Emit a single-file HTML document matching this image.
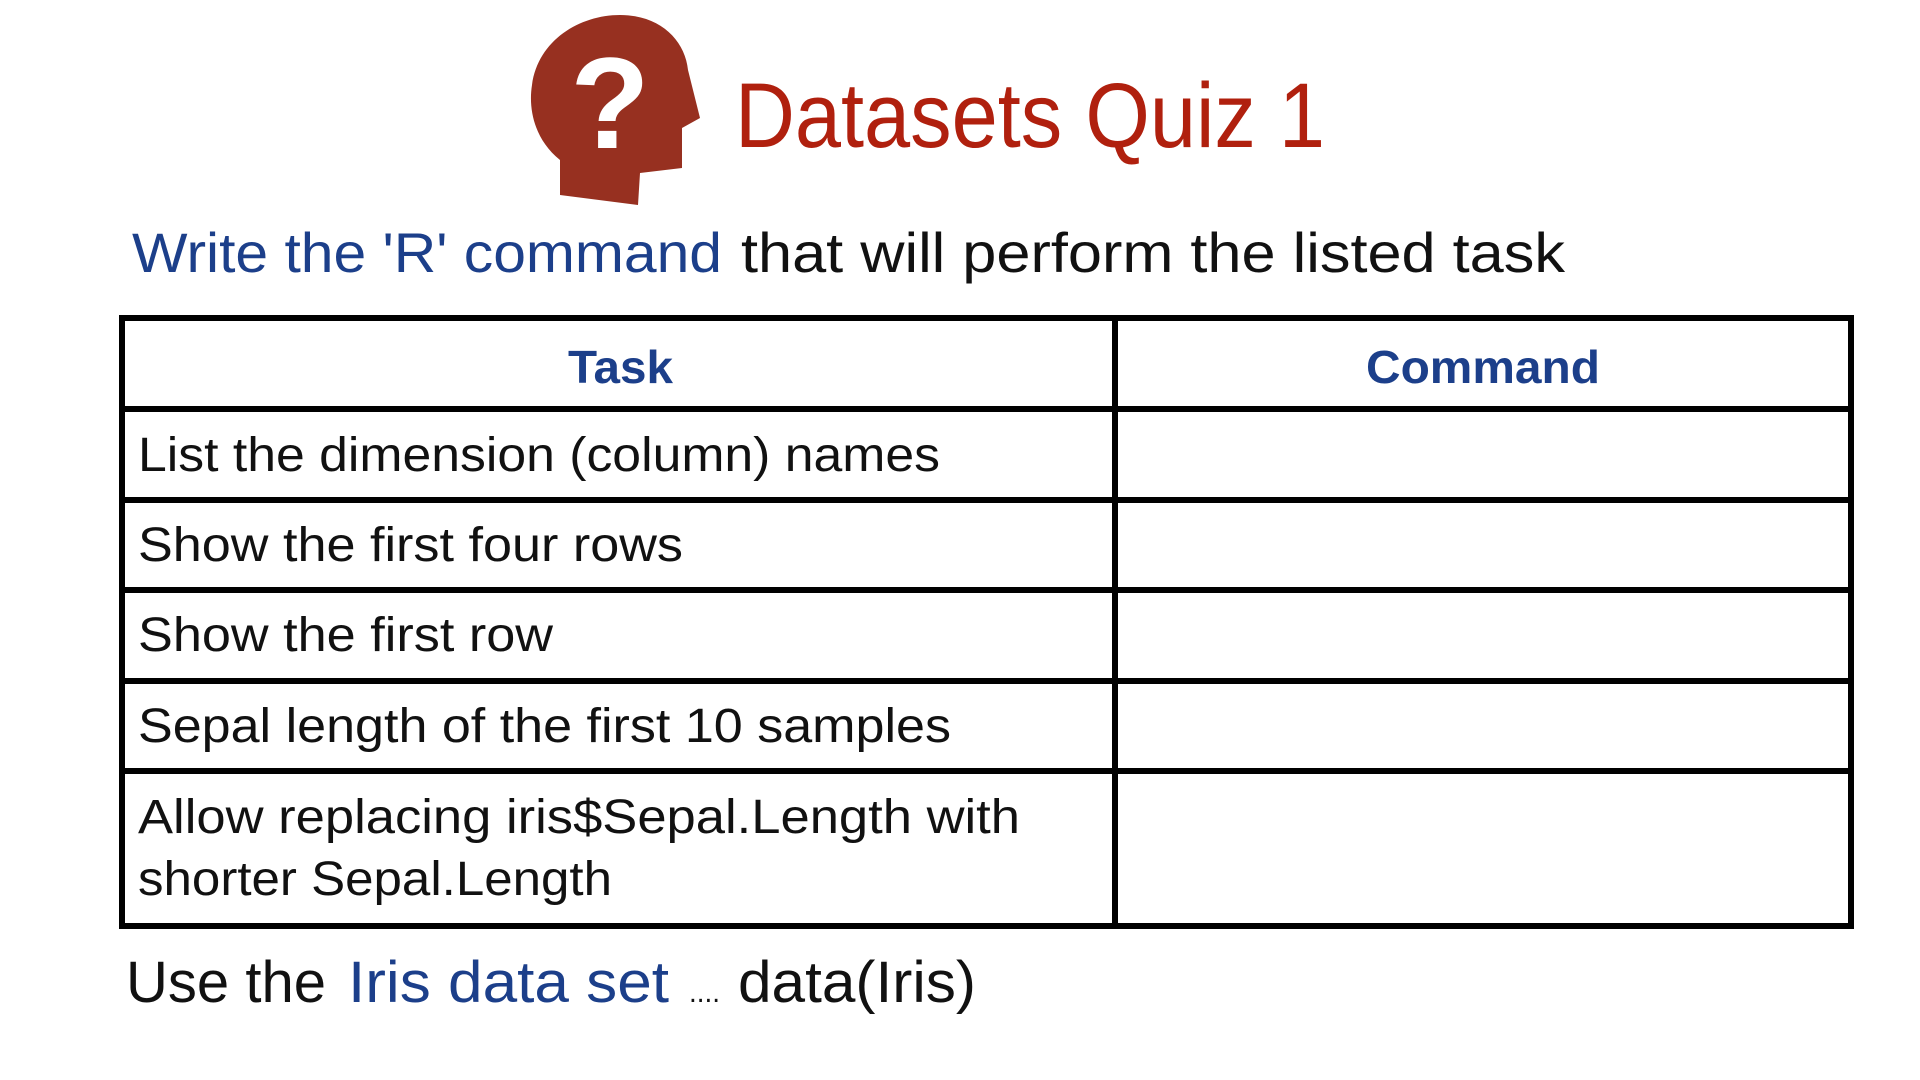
<!DOCTYPE html>
<html><head><meta charset="utf-8"><style>html,body{margin:0;padding:0;background:#fff;width:1920px;height:1080px;overflow:hidden}</style></head>
<body>
<svg width="1920" height="1080" viewBox="0 0 1920 1080" xmlns="http://www.w3.org/2000/svg">
<rect width="1920" height="1080" fill="#fff"/>
<g transform="translate(520,10)">
<path d="M40,185 L40,150 C15,130 8,100 12,75 C18,30 60,5 100,5 C140,5 165,30 168,60 L180,108 L162,118 L162,158 L120,163 L118,195 Z" fill="#973020"/>
<text x="90" y="138" font-family="Liberation Sans, sans-serif" font-weight="bold" font-size="130" fill="#fff" text-anchor="middle">?</text>
</g>
<text x="735" y="147" font-family="Liberation Sans, sans-serif" font-size="92" fill="#b0200e" textLength="590" lengthAdjust="spacingAndGlyphs">Datasets Quiz 1</text>
<g font-family="Liberation Sans, sans-serif" font-size="56">
<text x="132" y="272" fill="#1c3f8a" textLength="590" lengthAdjust="spacingAndGlyphs">Write the 'R' command</text>
<text x="741" y="272" fill="#111" textLength="824" lengthAdjust="spacingAndGlyphs">that will perform the listed task</text>
</g>
<g stroke="#000" stroke-width="6" fill="none">
<rect x="122" y="318" width="1729" height="608"/>
<line x1="122" y1="409" x2="1851" y2="409"/>
<line x1="122" y1="500" x2="1851" y2="500"/>
<line x1="122" y1="590" x2="1851" y2="590"/>
<line x1="122" y1="681" x2="1851" y2="681"/>
<line x1="122" y1="771" x2="1851" y2="771"/>
<line x1="1115" y1="318" x2="1115" y2="926"/>
</g>
<g font-family="Liberation Sans, sans-serif" font-weight="bold" font-size="46" fill="#1c3f8a">
<text x="568" y="383" textLength="105" lengthAdjust="spacingAndGlyphs">Task</text>
<text x="1366" y="383" textLength="234" lengthAdjust="spacingAndGlyphs">Command</text>
</g>
<g font-family="Liberation Sans, sans-serif" font-size="48" fill="#111">
<text x="138" y="471" textLength="802" lengthAdjust="spacingAndGlyphs">List the dimension (column) names</text>
<text x="138" y="561" textLength="545" lengthAdjust="spacingAndGlyphs">Show the first four rows</text>
<text x="138" y="651" textLength="415" lengthAdjust="spacingAndGlyphs">Show the first row</text>
<text x="138" y="742" textLength="813" lengthAdjust="spacingAndGlyphs">Sepal length of the first 10 samples</text>
<text x="138" y="833" textLength="882" lengthAdjust="spacingAndGlyphs">Allow replacing iris$Sepal.Length with</text>
<text x="138" y="895" textLength="474" lengthAdjust="spacingAndGlyphs">shorter Sepal.Length</text>
</g>
<g font-family="Liberation Sans, sans-serif" font-size="58">
<text x="126" y="1002" fill="#111" textLength="200" lengthAdjust="spacingAndGlyphs">Use the</text>
<text x="348" y="1002" fill="#1c3f8a" textLength="321" lengthAdjust="spacingAndGlyphs">Iris data set</text>
<text x="689" y="1002" fill="#111" font-size="30" textLength="31" lengthAdjust="spacingAndGlyphs">....</text>
<text x="738" y="1002" fill="#111" textLength="238" lengthAdjust="spacingAndGlyphs">data(Iris)</text>
</g>
</svg>
</body></html>
